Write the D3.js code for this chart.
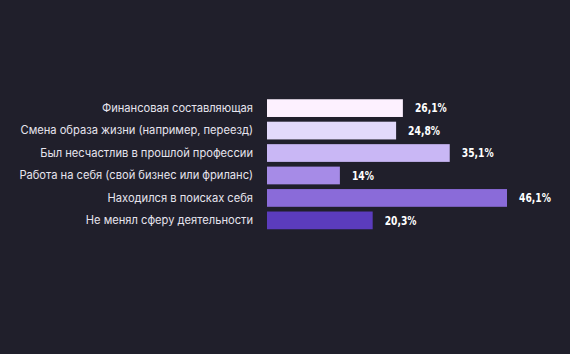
<!DOCTYPE html>
<html>
<head>
<meta charset="utf-8">
<script src="https://cdn.jsdelivr.net/npm/d3@7"></script>
<style>
  html, body { margin: 0; padding: 0; background: #201f2b; }
  svg { display: block; }
</style>
</head>
<body>
<svg id="chart"></svg>
<script>
// data
var categories = [
  "Финансовая составляющая",
  "Смена образа жизни (например, переезд)",
  "Был несчастлив в прошлой профессии",
  "Работа на себя (свой бизнес или фриланс)",
  "Находился в поисках себя",
  "Не менял сферу деятельности",
];
var values = [26.1, 24.8, 35.1, 14, 46.1, 20.3];
var valueLabels = ["26,1%", "24,8%", "35,1%", "14%", "46,1%", "20,3%"];
var barColors = ["#fdf1ff", "#e2d9fb", "#c9b7f5", "#a68be7", "#8a6bd9", "#5b3cbd"];

var dimensions = {
  width: 570,
  height: 354,
  margin: { top: 97, left: 267 },
};

var svg = d3
  .select("#chart")
  .attr("width", dimensions.width)
  .attr("height", dimensions.height);

svg
  .append("rect")
  .attr("width", dimensions.width)
  .attr("height", dimensions.height)
  .attr("fill", "#201f2b");

var xScale = d3.scaleLinear().domain([0, 46.1]).range([0, 240]);

var yScale = d3
  .scaleBand()
  .domain(d3.range(categories.length))
  .range([0, 134.5])
  .paddingInner(0.21)
  .paddingOuter(0.1);

var bounds = svg
  .append("g")
  .attr(
    "transform",
    "translate(" + dimensions.margin.left + "," + dimensions.margin.top + ")"
  );

// bars
bounds
  .selectAll("rect.bar")
  .data(values)
  .enter()
  .append("rect")
  .attr("class", "bar")
  .attr("x", 0)
  .attr("y", function (d, i) {
    return yScale(i);
  })
  .attr("width", function (d) {
    return xScale(d);
  })
  .attr("height", yScale.bandwidth())
  .attr("fill", function (d, i) {
    return barColors[i];
  });

// category labels on the left
var yAxis = d3
  .axisLeft(yScale)
  .tickSize(0)
  .tickPadding(14)
  .tickFormat(function (i) {
    return categories[i];
  });

var axisG = bounds.append("g").call(yAxis);
axisG.select(".domain").remove();
axisG
  .selectAll("text")
  .attr("fill", "#e6e4ee")
  .style("font-family", "Inter, 'Noto Sans', sans-serif")
  .style("font-size", "11.15px");

// value labels (condensed bold look via horizontal squeeze)
bounds
  .selectAll("text.value")
  .data(values)
  .enter()
  .append("text")
  .attr("class", "value")
  .attr("transform", function (d, i) {
    return (
      "translate(" +
      (xScale(d) + 12) +
      "," +
      (yScale(i) + yScale.bandwidth() / 2) +
      ") scale(0.8,1)"
    );
  })
  .attr("dy", "0.36em")
  .attr("fill", "#ffffff")
  .style("font-family", "'DejaVu Sans', sans-serif")
  .style("font-weight", "bold")
  .style("font-size", "11.5px")
  .text(function (d, i) {
    return valueLabels[i];
  });
</script>
</body>
</html>
